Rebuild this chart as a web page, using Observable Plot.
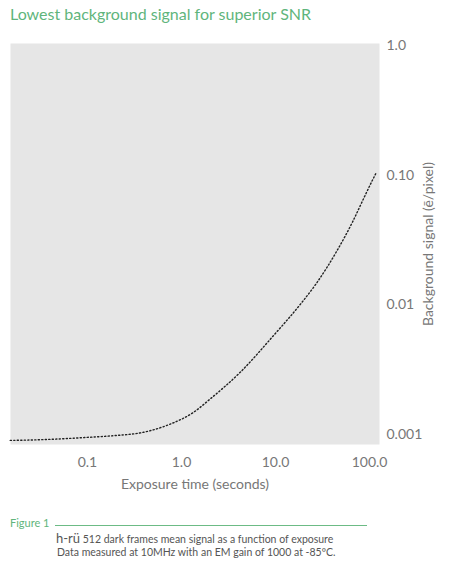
<!DOCTYPE html>
<html>
<head>
<meta charset="utf-8">
<script src="https://cdn.jsdelivr.net/npm/d3@7"></script>
<script src="https://cdn.jsdelivr.net/npm/@observablehq/plot@0.6"></script>
<style>
  html, body { margin: 0; padding: 0; background: #fff; }
  body { width: 450px; height: 569px; position: relative; overflow: hidden; font-family: Lato, "Open Sans", sans-serif; }
  #title { position: absolute; left: 10px; top: 4px; font-size: 16px; color: #5fb57c; white-space: nowrap; }
  #chart { position: absolute; left: 0; top: 30px; }
  #fig { position: absolute; left: 10px; top: 516px; font-size: 11px; line-height: 13px; color: #5fb57c; }
  #rule { position: absolute; left: 55px; top: 525px; width: 312px; height: 0; border-top: 1px solid #6cbb85; }
  .cap { position: absolute; left: 56px; font-size: 10.5px; line-height: 13px; height: 13px; color: #555; white-space: nowrap; }
  #cap1 { top: 532px; }
  #cap2 { top: 546px; left: 57px; }
  #cap1 .logo { font-size: 13px; line-height: 13px; color: #555; }
</style>
</head>
<body>
<div id="title">Lowest background signal for superior SNR</div>
<div id="chart"></div>
<div id="fig">Figure 1</div>
<div id="rule"></div>
<div class="cap" id="cap1"><span class="logo">h-rü</span> 512 dark frames mean signal as a function of exposure</div>
<div class="cap" id="cap2">Data measured at 10MHz with an EM gain of 1000 at -85ºC.</div>
<script>
// Data
const exposure = [0.0151, 0.03, 0.06, 0.1, 0.194, 0.394, 0.71, 1.34, 2.04, 4.24, 9.22, 19.2, 26.6, 45.3, 66.4, 86.9, 108.4, 118.6];
const signal   = [0.00090, 0.00091, 0.00093, 0.00095, 0.00098, 0.00104, 0.00118, 0.00148, 0.00189, 0.00303, 0.00564, 0.0105, 0.0143, 0.0263, 0.0440, 0.0665, 0.0927, 0.1055];
const xTicks = [0.1, 1, 10, 100];
const xTickLabels = ["0.1", "1.0", "10.0", "100.0"];
const yTicks = [1, 0.1, 0.01, 0.001];
const yTickLabels = ["1.0", "0.10", "0.01", "0.001"];

const data = exposure.map((t, i) => ({t, s: signal[i]}));

const chart = Plot.plot({
  width: 450,
  height: 470,
  marginLeft: 10,
  marginRight: 71,
  marginTop: 13,
  marginBottom: 56,
  style: {fontFamily: "Lato, 'Open Sans', sans-serif", fontSize: "13px", color: "#777", background: "transparent"},
  x: {type: "log", domain: [0.0152, 127.6]},
  y: {type: "log", domain: [0.000837, 1.036]},
  marks: [
    Plot.frame({fill: "#e6e6e6", stroke: "none"}),
    Plot.axisX({ticks: xTicks, tickFormat: (d) => xTickLabels[xTicks.indexOf(d)], tickSize: 0, tickPadding: 13,
      label: "Exposure time (seconds)", labelAnchor: "center", labelOffset: 44, labelArrow: "none", fontSize: 14}),
    Plot.axisY({anchor: "right", ticks: yTicks, tickFormat: (d) => yTickLabels[yTicks.indexOf(d)], tickSize: 0, tickPadding: 7,
      label: "Background signal (ē/pixel)", labelAnchor: "center", labelOffset: 53, labelArrow: "none", fontSize: 14}),
    Plot.line(data, {x: "t", y: "s", curve: "monotone-x", stroke: "#222", strokeWidth: 1.4, strokeDasharray: "1.2,2.3"})
  ]
});
document.getElementById("chart").appendChild(chart);
</script>
</body>
</html>
